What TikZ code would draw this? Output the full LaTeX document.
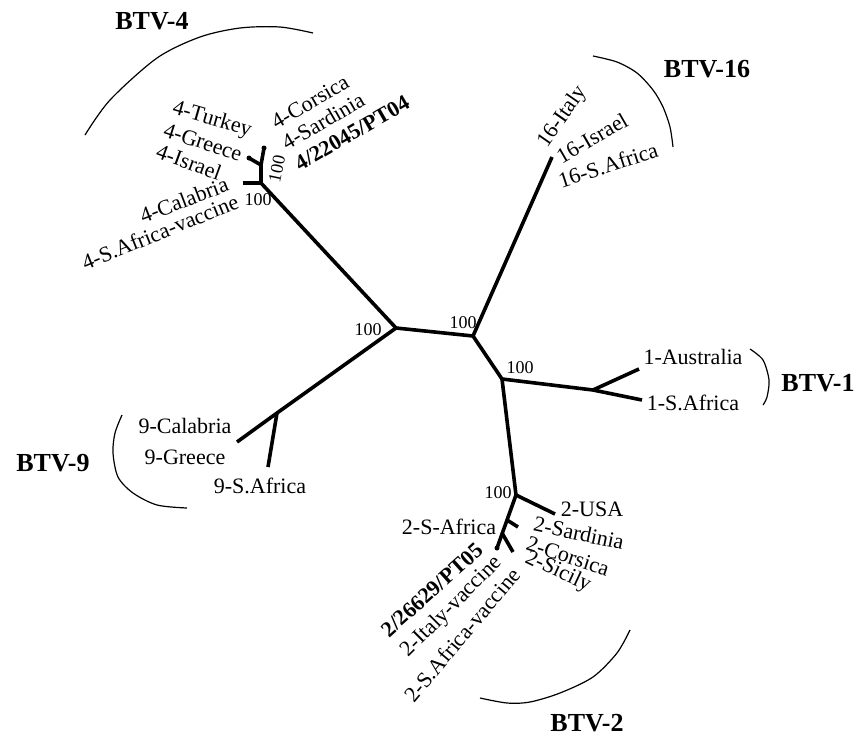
\documentclass[tikz,border=0pt]{standalone}
\usepackage{fontspec}
\setmainfont{Liberation Serif}
\begin{document}
\begin{tikzpicture}[x=1pt,y=-1pt,
  br/.style={line width=3.6pt},
  grparc/.style={line width=1.2pt},
  lab/.style={font=\fontsize{22}{24}\selectfont, inner sep=0pt},
  blab/.style={font=\fontsize{22}{24}\selectfont\bfseries, inner sep=0pt},
  grp/.style={font=\fontsize{26}{28}\selectfont\bfseries, inner sep=0pt},
  boot/.style={font=\fontsize{18}{20}\selectfont, inner sep=0pt},
  tipdot/.style={circle, fill, inner sep=0pt, minimum size=5pt}]
\useasboundingbox (0,0) rectangle (857,742);
% internal nodes
\coordinate (A) at (396,328);
\coordinate (B) at (473,336);
\coordinate (C) at (502,379);
% BTV-4
\coordinate (J4) at (261,183);
\coordinate (J4a) at (243,183);
\coordinate (J4b) at (261,165);
\node[tipdot] (T4c) at (264,148) {};
\node[tipdot] (T4d) at (249,158) {};
% BTV-16
\coordinate (T16) at (552,157);
% BTV-1
\coordinate (J1) at (593,390);
\coordinate (T1s) at (642,400);
\coordinate (T1a) at (639,369);
% BTV-9
\coordinate (J9) at (277,413);
\coordinate (T9a) at (237,442);
\coordinate (T9s) at (268,467);
% BTV-2
\coordinate (J2) at (516,495);
\coordinate (T2u) at (555,514);
\node[tipdot] (T2m) at (497,548) {};
\coordinate (S1) at (507,520);
\coordinate (S1e) at (518,527);
\coordinate (S2) at (502,533);
\coordinate (S2e) at (513,552);

% branches
\draw[br] (A) -- (B);
\draw[br] (A) -- (J4);
\draw[br] (J4) -- (J4a);
\draw[br] (J4) -- (J4b);
\draw[br] (J4b) -- (T4c.center);
\draw[br] (J4b) -- (T4d.center);
\draw[br] (A) -- (J9) -- (T9a);
\draw[br] (J9) -- (T9s);
\draw[br] (B) -- (T16);
\draw[br] (B) -- (C);
\draw[br] (C) -- (J1) -- (T1s);
\draw[br] (J1) -- (T1a);
\draw[br] (C) -- (J2);
\draw[br] (J2) -- (T2u);
\draw[br] (J2) -- (T2m.center);
\draw[br] (S1) -- (S1e);
\draw[br] (S2) -- (S2e);

% bootstrap values
\node[boot] (bA) at (368,330) {100};
\node[boot] (bB) at (463,323) {100};
\node[boot] (bC) at (520,368) {100};
\node[boot] (b2) at (498,493) {100};
\node[boot] (b4h) at (258,200) {100};
\node[boot, rotate=78] (b4v) at (277,169) {100};

% BTV-4 labels
\node[lab, rotate=-16] (l4t) at (212,120) {4-Turkey};
\node[lab, rotate=-18] (l4g) at (203,142) {4-Greece};
\node[lab, rotate=-20] (l4i) at (189,162) {4-Israel};
\node[lab, rotate=21] (l4c) at (184,200) {4-Calabria};
\node[lab, rotate=22] (l4s) at (160,232) {4-S.Africa-vaccine};
\node[lab, rotate=30] (l4co) at (310,102) {4-Corsica};
\node[lab, rotate=30] (l4sa) at (323,121) {4-Sardinia};
\node[blab, rotate=30] (l4pt) at (352,133) {4/22045/PT04};
\node[grp] (g4) at (152,21) {BTV-4};
\draw[grparc] plot[smooth] coordinates {(85,135) (110,100) (157,58) (200,37) (240,28) (280,27) (313,33)};

% BTV-16 labels
\node[lab, rotate=55] (l16i) at (563,117) {16-Italy};
\node[lab, rotate=30] (l16is) at (592,138) {16-Israel};
\node[lab, rotate=18] (l16s) at (608,165) {16-S.Africa};
\node[grp] (g16) at (707,69) {BTV-16};
\draw[grparc] plot[smooth] coordinates {(593,56) (617,62) (637,73) (653,90) (663,107) (670,127) (673,147)};

% BTV-1 labels
\node[lab] (l1a) at (693,357) {1-Australia};
\node[lab] (l1s) at (693,403) {1-S.Africa};
\node[grp] (g1) at (818,383) {BTV-1};
\draw[grparc] plot[smooth] coordinates {(750,349) (763,360) (769,380) (767,397) (763,405)};

% BTV-9 labels
\node[lab] (l9c) at (185,426) {9-Calabria};
\node[lab] (l9g) at (185,457) {9-Greece};
\node[lab] (l9s) at (260,486) {9-S.Africa};
\node[grp] (g9) at (53,463) {BTV-9};
\draw[grparc] plot[smooth] coordinates {(122,415) (115,433) (113,453) (118,477) (133,493) (157,505) (187,508)};

% BTV-2 labels
\node[lab] (l2u) at (592,509) {2-USA};
\node[lab] (l2sa) at (449,527) {2-S-Africa};
\node[lab, rotate=-12] (l2sr) at (579,533) {2-Sardinia};
\node[lab, rotate=-18] (l2co) at (568,556) {2-Corsica};
\node[lab, rotate=-25] (l2si) at (558,572) {2-Sicily};
\node[blab, rotate=42] (l2pt) at (432,590) {2/26629/PT05};
\node[lab, rotate=45] (l2it) at (452,607) {2-Italy-vaccine};
\node[lab, rotate=50] (l2sv) at (462,635) {2-S.Africa-vaccine};
\node[grp] (g2) at (587,723) {BTV-2};
\draw[grparc] plot[smooth] coordinates {(480,698) (507,703) (530,702) (560,693) (593,677) (617,653) (630,630)};
\end{tikzpicture}
\end{document}
